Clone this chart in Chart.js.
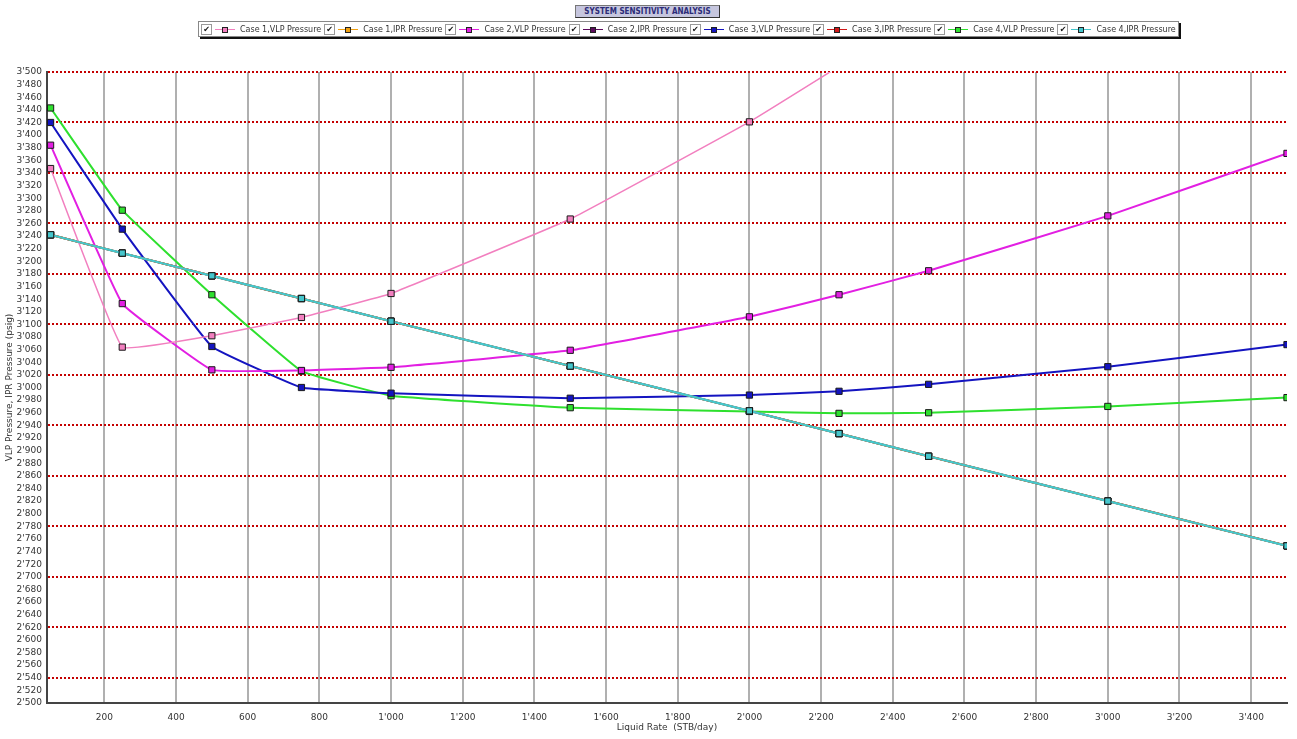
<!DOCTYPE html>
<html>
<head>
<meta charset="utf-8">
<script src="https://cdn.jsdelivr.net/npm/chart.js@4.4.1/dist/chart.umd.min.js"></script>
<style>
  body { margin: 0; background: #fff; }
  #wrap { position: relative; width: 1297px; height: 739px; }
  #chart { position: absolute; left: 0; top: 0; }
  #title {
    position: absolute; left: 575px; top: 5px; width: 143px; height: 11px;
    background: #c6c6de; border: 1px solid #777; border-right-color: #333; border-bottom-color: #333;
    font: bold 8px "DejaVu Sans Condensed", "DejaVu Sans", sans-serif; color: #2c2c78;
    text-align: center; line-height: 11px; white-space: nowrap;
  }
  #legend {
    position: absolute; left: 198px; top: 21px; width: 977px; height: 14px;
    border: 1px solid #888; box-shadow: 2px 2px 0 #111; background: #fff;
    display: flex; align-items: center; padding-left: 2px; overflow: hidden;
    font: 8px "DejaVu Sans", sans-serif; color: #333; white-space: nowrap;
  }
  .item { display: flex; align-items: center; margin-right: 3px; }
  .check {
    width: 9px; height: 9px; border: 1px solid #999; background: #fff;
    font-size: 8px; line-height: 9px; text-align: center; color: #111; margin-right: 3px;
  }
  .sample { position: relative; width: 20px; height: 9px; margin-right: 5px; }
  .sample .ln { position: absolute; left: 0; right: 0; top: 4px; height: 1px; }
  .sample .mk { position: absolute; left: 7px; top: 2px; width: 4px; height: 4px; border: 1px solid #222; }
</style>
</head>
<body>
<div id="wrap">
  <canvas id="chart" width="1297" height="739"></canvas>
  <div id="title">SYSTEM SENSITIVITY ANALYSIS</div>
  <div id="legend"></div>
</div>
<script>
// liquid rates (STB/day)
const rates = [50, 250, 500, 750, 1000, 1500, 2000, 2250, 2500, 3000, 3500];

// VLP curves per case (psig) - case 1 runs off the top after 2000
const case1Vlp = [3347, 3064, 3082, 3111, 3149, 3267, 3421, 3509];
const case2Vlp = [3384, 3133, 3028, 3027, 3032, 3059, 3112, 3147, 3185, 3272, 3371];
const case3Vlp = [3420, 3251, 3065, 3000, 2991, 2983, 2988, 2994, 3005, 3033, 3068];
const case4Vlp = [3443, 3281, 3147, 3026, 2987, 2968, 2962, 2959, 2960, 2970, 2984];

// IPR is the same for every case, the curves sit on top of each other
const iprPressure = [3242, 3213, 3177, 3141, 3105, 3034, 2963, 2927, 2891, 2820, 2749];

const seriesNames = [
  'Case 1,VLP Pressure', 'Case 1,IPR Pressure',
  'Case 2,VLP Pressure', 'Case 2,IPR Pressure',
  'Case 3,VLP Pressure', 'Case 3,IPR Pressure',
  'Case 4,VLP Pressure', 'Case 4,IPR Pressure'
];
const seriesValues = [case1Vlp, iprPressure, case2Vlp, iprPressure, case3Vlp, iprPressure, case4Vlp, iprPressure];
const seriesColors = ['#f27fbf', '#f0a010', '#e21fe2', '#5c0a5c', '#1414c0', '#d01818', '#2ee02e', '#45c6cc'];
const lineWidths = [1.5, 2, 2, 2, 2, 2, 2, 2.2];

function fmt(v) {
  v = Math.round(v);
  if (v < 1000) return String(v);
  const th = Math.floor(v / 1000);
  const rest = String(v % 1000).padStart(3, '0');
  return th + "'" + rest;
}

const datasets = seriesNames.map((name, i) => ({
  label: name,
  data: seriesValues[i].map((y, j) => ({ x: rates[j], y: y })),
  borderColor: seriesColors[i],
  backgroundColor: seriesColors[i],
  pointBackgroundColor: seriesColors[i],
  pointBorderColor: '#1a1a1a',
  pointBorderWidth: 1,
  pointStyle: 'rect',
  pointRadius: 4.4,
  borderWidth: lineWidths[i],
  tension: 0.08,
  // keep case 4 IPR drawn last so it shows on top
  order: i === 7 ? 0 : 1
}));

// html legend with the little checkboxes
const legendEl = document.getElementById('legend');
seriesNames.forEach((name, i) => {
  const item = document.createElement('div');
  item.classList.add('item');
  const check = document.createElement('div');
  check.classList.add('check');
  check.textContent = '✔';
  item.appendChild(check);
  const sample = document.createElement('div');
  sample.classList.add('sample');
  const ln = document.createElement('div');
  ln.classList.add('ln');
  ln.style.background = seriesColors[i];
  const mk = document.createElement('div');
  mk.classList.add('mk');
  mk.style.background = seriesColors[i];
  sample.appendChild(ln);
  sample.appendChild(mk);
  item.appendChild(sample);
  const txt = document.createElement('span');
  txt.textContent = name;
  item.appendChild(txt);
  legendEl.appendChild(item);
});

const tickFont = { family: 'DejaVu Sans', size: 9 };

new Chart(document.getElementById('chart'), {
  type: 'line',
  data: { datasets: datasets },
  options: {
    responsive: false,
    animation: false,
    devicePixelRatio: 1,
    layout: { padding: { top: 72, right: 10, left: 0, bottom: 0 } },
    plugins: {
      legend: { display: false },
      title: { display: false },
      tooltip: { enabled: false }
    },
    scales: {
      x: {
        type: 'linear',
        min: 40,
        max: 3500,
        afterBuildTicks: (scale) => {
          scale.ticks = scale.ticks.filter(t => t.value % 200 === 0);
        },
        afterFit: (scale) => { scale.height = 36; },
        ticks: {
          stepSize: 200,
          autoSkip: false,
          maxRotation: 0,
          padding: 9,
          color: '#333',
          font: tickFont,
          callback: (v) => fmt(v)
        },
        grid: { color: '#b0b0b0', lineWidth: 2, drawTicks: false },
        border: { color: '#444', width: 2 },
        title: {
          display: true,
          text: 'Liquid Rate  (STB/day)',
          color: '#333',
          font: tickFont,
          padding: { top: 0, bottom: 6 }
        }
      },
      y: {
        min: 2500,
        max: 3500,
        afterFit: (scale) => { scale.width = 47; },
        ticks: {
          stepSize: 20,
          autoSkip: false,
          padding: 5,
          color: '#333',
          font: tickFont,
          callback: (v) => fmt(v)
        },
        grid: {
          color: (ctx) => (ctx.tick && ctx.tick.value % 80 === 60) ? '#c40000' : 'rgba(0,0,0,0)',
          lineWidth: 2,
          drawTicks: false
        },
        border: { color: '#444', width: 2, dash: [2, 2] },
        title: {
          display: true,
          text: 'VLP Pressure, IPR Pressure (psig)',
          color: '#333',
          font: tickFont,
          padding: { top: 4, bottom: 0 }
        }
      }
    }
  }
});
</script>
</body>
</html>
